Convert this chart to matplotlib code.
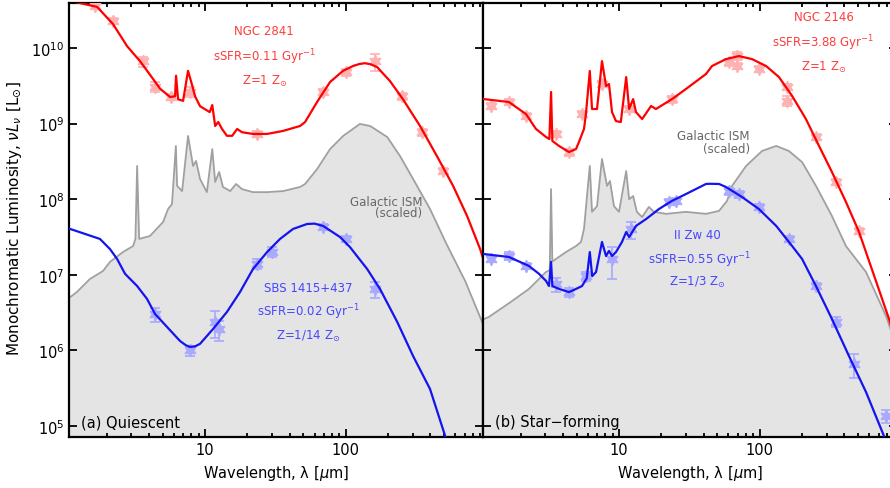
import matplotlib
matplotlib.use("Agg")
import matplotlib.pyplot as plt
from matplotlib.ticker import LogLocator, NullLocator, LogFormatterMathtext, NullFormatter

# ---- (a) Quiescent: NGC 2841 model + photometry
n2841_wl = [1.0, 1.10, 1.71, 2.22, 2.79, 3.45, 4.27, 4.79, 5.64, 6.12, 6.22, 6.43, 6.98,
            7.57, 8.1, 8.49, 9.21, 10.8, 11.25, 11.8, 12.4, 13.2, 14.3, 15.6, 16.9, 18.3,
            21.9, 27.6, 35.8, 47.3, 51.4, 62.5, 77.3, 95.7, 113, 125, 137, 150, 167, 206,
            255, 337, 445, 579, 728, 900, 1000]
n2841_lum = [5.0e10, 4.2e10, 3.5e10, 2.07e10, 1.06e10, 6.7e9, 3.9e9, 2.9e9, 2.25e9, 2.3e9,
             4.3e9, 2.1e9, 2.0e9, 5.0e9, 3.2e9, 2.3e9, 1.7e9, 1.42e9, 1.76e9, 9.3e8,
             1.05e9, 8.5e8, 6.9e8, 6.9e8, 8.5e8, 7.7e8, 7.3e8, 7.3e8, 8.0e8, 9.3e8,
             1.05e9, 1.93e9, 3.55e9, 5.0e9, 5.8e9, 6.15e9, 6.3e9, 6.1e9, 5.6e9, 3.66e9,
             2.1e9, 9.3e8, 3.7e8, 1.5e8, 6.0e7, 2.2e7, 1.2e7]
n2841_obs_wl = [1.65, 2.22, 3.62, 4.41, 5.73, 7.82, 23.4, 69.0, 100, 161, 251, 348, 492]
n2841_obs_lum = [3.6e10, 2.28e10, 6.7e9, 3.05e9, 2.25e9, 2.62e9, 7.3e8, 2.62e9, 4.8e9,
                 6.7e9, 2.3e9, 7.7e8, 2.36e8]
n2841_obs_err = [0.10, 0.10, 0.15, 0.15, 0.10, 0.15, 0.10, 0.10, 0.10, 0.25, 0.10, 0.10, 0.10]

# ---- (a) SBS 1415+437
sbs_wl = [1.0, 1.10, 1.79, 2.11, 2.37, 2.70, 3.29, 3.87, 4.41, 5.37, 6.64, 7.3, 7.82, 8.5,
          9.21, 11.4, 14.3, 17.7, 21.9, 27.6, 34.1, 42.2, 53.1, 60.0, 69.0, 91.0, 107, 142,
          175, 232, 301, 397, 508, 600]
sbs_lum = [4.2e7, 4.04e7, 2.98e7, 2.19e7, 1.62e7, 1.03e7, 7.1e6, 4.79e6, 3.03e6, 2.04e6,
           1.33e6, 1.17e6, 1.11e6, 1.13e6, 1.22e6, 1.92e6, 3.22e6, 5.9e6, 1.19e7, 2.0e7,
           2.98e7, 4.04e7, 4.7e7, 4.75e7, 4.43e7, 3.16e7, 2.33e7, 1.19e7, 6.5e6, 2.38e6,
           8.4e5, 3.08e5, 7.4e4, 3.0e4]
sbs_obs_wl = [4.41, 7.82, 11.8, 12.5, 23.3, 30.0, 69.0, 101, 161]
sbs_obs_lum = [3.0e6, 1.0e6, 2.4e6, 1.9e6, 1.4e7, 2.0e7, 4.3e7, 3.0e7, 6.5e6]
sbs_obs_err = [0.20, 0.15, 0.40, 0.30, 0.15, 0.15, 0.10, 0.10, 0.25]

# ---- (a) Galactic ISM (scaled)
ism_a_wl = [1.0, 1.13, 1.23, 1.52, 1.88, 2.11, 2.61, 3.08, 3.20, 3.29, 3.40, 4.06, 5.03,
            5.46, 5.82, 6.2, 6.33, 6.87, 7.57, 8.22, 8.63, 9.21, 10.3, 11.25, 11.8, 12.6,
            13.4, 15.1, 16.6, 18.3, 21.9, 27.6, 35.8, 47.3, 51.4, 62.5, 77.3, 95.7, 126,
            149, 197, 243, 301, 397, 520, 705, 929, 1000]
ism_a_lum = [4.5e6, 5.25e6, 5.93e6, 8.8e6, 1.12e7, 1.48e7, 2.0e7, 2.4e7, 2.98e7, 2.75e8,
             2.98e7, 3.26e7, 4.99e7, 7.41e7, 8.6e7, 5.06e8, 1.5e8, 1.28e8, 6.86e8, 2.75e8,
             3.2e8, 1.85e8, 1.24e8, 4.6e8, 1.69e8, 2.29e8, 1.45e8, 1.28e8, 1.59e8, 1.36e8,
             1.24e8, 1.24e8, 1.28e8, 1.45e8, 1.59e8, 2.5e8, 4.6e8, 6.86e8, 9.9e8, 9.3e8,
             6.65e8, 3.72e8, 1.85e8, 7.41e7, 2.55e7, 8.3e6, 2.4e6, 1.6e6]

# ---- (b) Star-forming: NGC 2146
n2146_wl = [1.0, 1.10, 1.65, 2.18, 2.57, 3.03, 3.2, 3.29, 3.36, 3.75, 4.41, 4.95, 5.19,
            5.64, 5.82, 6.2, 6.43, 6.98, 7.57, 8.09, 8.49, 8.92, 9.52, 10.3, 11.25, 11.8,
            12.6, 13.2, 14.6, 16.9, 18.3, 23.8, 29.9, 41.5, 45.8, 57.6, 71.2, 88.1, 111,
            137, 170, 213, 264, 326, 410, 508, 830, 1000]
n2146_lum = [2.2e9, 2.11e9, 1.93e9, 1.34e9, 8.5e8, 6.65e8, 6.26e8, 2.62e9, 5.9e8, 5.06e8,
             4.21e8, 4.61e8, 5.7e8, 8.5e8, 1.34e9, 4.97e9, 1.56e9, 1.56e9, 6.7e9, 3.14e9,
             3.34e9, 1.42e9, 1.08e9, 1.05e9, 4.13e9, 1.56e9, 2.11e9, 1.42e9, 1.15e9,
             1.71e9, 1.56e9, 2.11e9, 2.87e9, 4.53e9, 5.78e9, 7.14e9, 7.83e9, 7.14e9,
             5.78e9, 4.13e9, 2.32e9, 1.15e9, 5.06e8, 2.29e8, 9.2e7, 3.68e7, 2.6e6, 8.0e5]
n2146_obs_wl = [1.23, 1.65, 2.18, 3.57, 4.41, 5.46, 7.57, 11.8, 23.8, 60.5, 69, 69, 98.8,
                156, 156, 251, 348, 508]
n2146_obs_lum = [1.71e9, 1.93e9, 1.26e9, 7.3e8, 4.2e8, 1.34e9, 3.34e9, 1.56e9, 2.11e9,
                 6.5e9, 7.8e9, 5.78e9, 5.3e9, 3.05e9, 2.0e9, 6.65e8, 1.69e8, 3.8e7]
n2146_obs_err = [0.10, 0.10, 0.10, 0.10, 0.10, 0.10, 0.10, 0.10, 0.10, 0.10, 0.12, 0.10,
                 0.10, 0.10, 0.15, 0.10, 0.10, 0.10]

# ---- (b) II Zw 40
iizw_wl = [1.0, 1.10, 1.65, 2.29, 2.70, 3.03, 3.18, 3.29, 3.36, 3.75, 4.41, 4.95, 5.46,
           5.9, 6.2, 6.45, 6.87, 7.57, 8.09, 8.49, 8.92, 9.52, 10.5, 11.25, 11.8, 13.2,
           15.6, 19.2, 23.8, 29.9, 41.5, 44.0, 51.4, 57.6, 74.8, 98.8, 131, 170, 200,
           251, 326, 431, 569, 763, 900]
iizw_lum = [1.95e7, 1.88e7, 1.72e7, 1.31e7, 1.03e7, 8.3e6, 7.1e6, 1.48e7, 7.1e6, 6.5e6,
            5.9e6, 6.5e6, 7.1e6, 9.0e6, 2.0e7, 9.6e6, 1.09e7, 2.72e7, 1.77e7, 2.07e7,
            1.77e7, 2.0e7, 2.72e7, 3.68e7, 3.16e7, 4.43e7, 5.47e7, 7.4e7, 9.5e7, 1.17e8,
            1.59e8, 1.6e8, 1.59e8, 1.45e8, 1.07e8, 7.4e7, 4.43e7, 2.4e7, 1.62e7, 7.1e6,
            2.6e6, 8.4e5, 2.82e5, 7.4e4, 2.5e4]
iizw_obs_wl = [1.23, 1.65, 2.18, 3.57, 4.41, 5.82, 8.92, 12.2, 22.6, 25.4, 60.5, 71.2,
               98.8, 161, 251, 348, 468, 790]
iizw_obs_lum = [1.62e7, 1.77e7, 1.31e7, 7.5e6, 5.9e6, 9.6e6, 1.62e7, 4.0e7, 9.2e7, 9.5e7,
                1.28e8, 1.17e8, 7.9e7, 2.98e7, 7.1e6, 2.38e6, 6.6e5, 1.36e5]
iizw_obs_err = [0.10, 0.12, 0.10, 0.20, 0.15, 0.15, 0.45, 0.25, 0.10, 0.10, 0.10, 0.10,
                0.10, 0.10, 0.10, 0.15, 0.35, 0.20]

# ---- (b) Galactic ISM (scaled)
ism_b_wl = [1.0, 1.10, 1.19, 1.74, 2.29, 3.03, 3.22, 3.29, 3.36, 4.20, 4.95, 5.37, 5.64,
            6.2, 6.43, 6.98, 7.57, 8.22, 8.63, 9.21, 10.0, 11.25, 11.8, 12.6, 13.4, 14.6,
            16.3, 17.7, 21.6, 29.9, 41.5, 51.4, 58.6, 63.6, 80.0, 104, 131, 161, 200,
            251, 326, 410, 569, 790, 1000]
ism_b_lum = [2.3e6, 2.6e6, 2.77e6, 4.5e6, 6.5e6, 1.09e7, 1.15e7, 1.36e8, 1.5e7, 2.0e7,
             2.4e7, 2.72e7, 4.04e7, 2.75e8, 6.8e7, 8.1e7, 3.4e8, 1.5e8, 1.74e8, 8.1e7,
             6.8e7, 2.36e8, 1.0e8, 1.1e8, 6.8e7, 5.8e7, 7.9e7, 6.8e7, 6.4e7, 6.8e7, 6.4e7,
             7.0e7, 9.5e7, 1.5e8, 2.75e8, 4.35e8, 5.06e8, 4.35e8, 3.1e8, 1.5e8, 6.0e7,
             2.4e7, 1.09e7, 2.85e6, 8.0e5]

RED = "#ff0000"
BLUE = "#1414f0"
RED_PT = "#ffb2b2"
BLUE_PT = "#a9a9ff"
RED_TXT = "#ff3c3c"
BLUE_TXT = "#4646ff"
GREY = "#a0a0a0"
FILL = "#e4e4e4"


def obs(ax, wl, lum, err, color):
    yerr = [[l * e for l, e in zip(lum, err)], [l * e for l, e in zip(lum, err)]]
    ax.errorbar(wl, lum, yerr=yerr, fmt="none", ecolor=color, elinewidth=1.2,
                capsize=3.5, capthick=1.2, zorder=3)
    ax.plot(wl, lum, ls="none", marker=(6, 1, 0), ms=9, color=color, mec=color,
            zorder=3)


def style(ax):
    ax.set_xscale("log")
    ax.set_yscale("log")
    ax.set_xlim(1.085, 950)
    ax.set_ylim(10 ** 4.85, 10 ** 10.595)
    ax.xaxis.set_major_locator(LogLocator(base=10, numticks=10))
    ax.xaxis.set_minor_locator(LogLocator(base=10, subs=range(2, 10), numticks=20))
    ax.xaxis.set_minor_formatter(NullFormatter())
    ax.set_xticks([10, 100], ["10", "100"])
    ax.yaxis.set_major_locator(LogLocator(base=10, numticks=10))
    ax.yaxis.set_minor_locator(NullLocator())
    ax.yaxis.set_major_formatter(LogFormatterMathtext())
    ax.tick_params(which="both", direction="in", top=True, right=True, width=1.3,
                   labelsize=10.5, colors="black")
    ax.tick_params(which="major", length=6)
    ax.tick_params(which="minor", length=3)
    for s in ax.spines.values():
        s.set_linewidth(1.6)
    ax.set_xlabel(r"Wavelength, λ [$\mu$m]", fontsize=10.5, labelpad=4)


fig = plt.figure(figsize=(8.9, 4.89), dpi=100)
ax1 = fig.add_axes([0.0779, 0.1037, 0.4652, 0.888])
ax2 = fig.add_axes([0.543, 0.1037, 0.4652, 0.888])

# panel (a)
ax1.fill_between(ism_a_wl, ism_a_lum, 1e3, color=FILL, lw=0, zorder=0)
ax1.plot(ism_a_wl, ism_a_lum, color=GREY, lw=1.3, zorder=1)
obs(ax1, n2841_obs_wl, n2841_obs_lum, n2841_obs_err, RED_PT)
obs(ax1, sbs_obs_wl, sbs_obs_lum, sbs_obs_err, BLUE_PT)
ax1.plot(n2841_wl, n2841_lum, color=RED, lw=1.6, zorder=4)
ax1.plot(sbs_wl, sbs_lum, color=BLUE, lw=1.6, zorder=4)
style(ax1)

kw = dict(transform=ax1.transAxes, ha="center", va="center", fontsize=8.5)
ax1.text(0.470, 0.936, "NGC 2841", color=RED_TXT, **kw)
ax1.text(0.472, 0.878, r"sSFR=0.11 Gyr$^{-1}$", color=RED_TXT, **kw)
ax1.text(0.472, 0.821, r"Z=1 Z$_{\odot}$", color=RED_TXT, **kw)
ax1.text(0.577, 0.344, "SBS 1415+437", color=BLUE_TXT, **kw)
ax1.text(0.577, 0.291, r"sSFR=0.02 Gyr$^{-1}$", color=BLUE_TXT, **kw)
ax1.text(0.577, 0.234, r"Z=1/14 Z$_{\odot}$", color=BLUE_TXT, **kw)
ax1.text(0.852, 0.544, "Galactic ISM", color="#666666", ha="right", va="center",
         fontsize=8.5, transform=ax1.transAxes)
ax1.text(0.852, 0.517, "(scaled)", color="#666666", ha="right", va="center",
         fontsize=8.5, transform=ax1.transAxes)
ax1.text(0.028, 0.036, "(a) Quiescent", ha="left", va="center", fontsize=10.5,
         transform=ax1.transAxes)

# panel (b)
ax2.fill_between(ism_b_wl, ism_b_lum, 1e3, color=FILL, lw=0, zorder=0)
ax2.plot(ism_b_wl, ism_b_lum, color=GREY, lw=1.3, zorder=1)
obs(ax2, n2146_obs_wl, n2146_obs_lum, n2146_obs_err, RED_PT)
obs(ax2, iizw_obs_wl, iizw_obs_lum, iizw_obs_err, BLUE_PT)
ax2.plot(n2146_wl, n2146_lum, color=RED, lw=1.6, zorder=4)
ax2.plot(iizw_wl, iizw_lum, color=BLUE, lw=1.6, zorder=4)
style(ax2)
ax2.tick_params(labelleft=False)

kw = dict(transform=ax2.transAxes, ha="center", va="center", fontsize=8.5)
ax2.text(0.823, 0.968, "NGC 2146", color=RED_TXT, **kw)
ax2.text(0.820, 0.910, r"sSFR=3.88 Gyr$^{-1}$", color=RED_TXT, **kw)
ax2.text(0.823, 0.855, r"Z=1 Z$_{\odot}$", color=RED_TXT, **kw)
ax2.text(0.516, 0.466, "II Zw 40", color=BLUE_TXT, **kw)
ax2.text(0.523, 0.410, r"sSFR=0.55 Gyr$^{-1}$", color=BLUE_TXT, **kw)
ax2.text(0.518, 0.358, r"Z=1/3 Z$_{\odot}$", color=BLUE_TXT, **kw)
ax2.text(0.644, 0.694, "Galactic ISM", color="#666666", ha="right", va="center",
         fontsize=8.5, transform=ax2.transAxes)
ax2.text(0.644, 0.666, "(scaled)", color="#666666", ha="right", va="center",
         fontsize=8.5, transform=ax2.transAxes)
ax2.text(0.028, 0.036, "(b) Star\u2212forming", ha="left", va="center", fontsize=10.5,
         transform=ax2.transAxes)

fig.text(0.017, 0.554, r"Monochromatic Luminosity, $\nu L_\nu$ [L$_{\odot}$]",
         rotation=90, ha="center", va="center", fontsize=11)

fig.savefig("out.png", dpi=100)
